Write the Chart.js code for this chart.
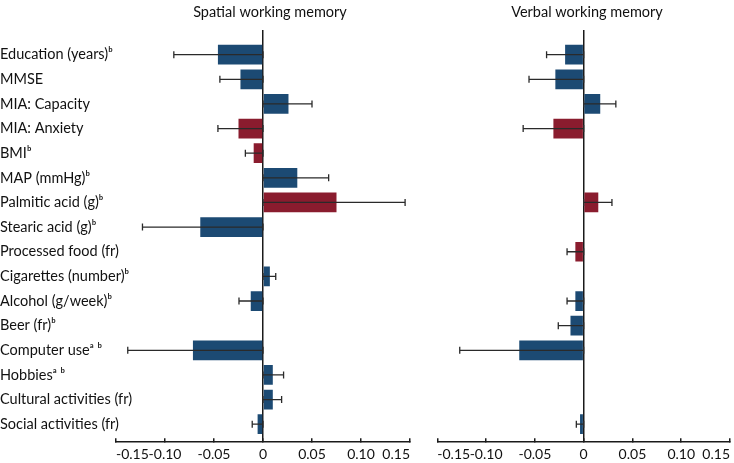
<!DOCTYPE html>
<html>
<head>
<meta charset="utf-8">
<script src="https://cdn.jsdelivr.net/npm/chart.js@4"></script>
<style>
  html, body { margin: 0; padding: 0; background: #fff; overflow: hidden; }
  #wrap { position: relative; width: 734px; height: 463px; overflow: hidden; }
  #spatial { position: absolute; left: 0; top: 0; }
  #verbal { position: absolute; left: 414px; top: 0; }
</style>
</head>
<body>
<div id="wrap">
  <canvas id="spatial" width="540" height="471"></canvas>
  <canvas id="verbal" width="346" height="471"></canvas>
</div>
<script>
const rowLabels = [
  'Education (years)ᵇ', 'MMSE', 'MIA: Capacity', 'MIA: Anxiety', 'BMIᵇ',
  'MAP (mmHg)ᵇ', 'Palmitic acid (g)ᵇ', 'Stearic acid (g)ᵇ', 'Processed food (fr)',
  'Cigarettes (number)ᵇ', 'Alcohol (g/week)ᵇ', 'Beer (fr)ᵇ', 'Computer useᵃ ᵇ',
  'Hobbiesᵃ ᵇ', 'Cultural activities (fr)', 'Social activities (fr)'
];
// rows drawn in red
const redRows = ['MIA: Anxiety', 'BMIᵇ', 'Palmitic acid (g)ᵇ', 'Processed food (fr)'];

// estimates and end of the error bar
const spatialEst = [-0.046, -0.023, 0.026, -0.025, -0.0095, 0.035, 0.075, -0.064, null,
                    0.007, -0.0125, null, -0.0715, 0.010, 0.010, -0.0055];
const spatialErr = [-0.091, -0.044, 0.050, -0.046, -0.018, 0.067, 0.145, -0.123, null,
                    0.013, -0.0245, null, -0.138, 0.021, 0.019, -0.011];
const verbalEst = [-0.019, -0.029, 0.017, -0.031, null, null, 0.015, null, -0.0085,
                   null, -0.0085, -0.0135, -0.066, null, null, -0.0037];
const verbalErr = [-0.038, -0.056, 0.033, -0.062, null, null, 0.029, null, -0.017,
                   null, -0.017, -0.026, -0.127, null, null, -0.0075];

const xTicks = [-0.15, -0.10, -0.05, 0, 0.05, 0.10, 0.15];

const BLUE = '#1c4a73';
const RED = '#8a1c2e';
const FONT = 'Lato, "Open Sans", sans-serif';

function errorBars(ends) {
  return {
    id: 'errorBars',
    afterDatasetsDraw(chart) {
      const ctx = chart.ctx;
      const xs = chart.scales.x, ys = chart.scales.y;
      ctx.save();
      ctx.strokeStyle = '#2a2a2a';
      ctx.lineWidth = 1.3;
      ends.forEach((e, i) => {
        if (e === null) return;
        const y = ys.getPixelForValue(i);
        const x0 = xs.getPixelForValue(0);
        const x1 = xs.getPixelForValue(e);
        ctx.beginPath();
        ctx.moveTo(x0, y); ctx.lineTo(x1, y);
        ctx.moveTo(x1, y - 3.5); ctx.lineTo(x1, y + 3.5);
        ctx.moveTo(x0, y - 3.5); ctx.lineTo(x0, y + 3.5);
        ctx.stroke();
      });
      ctx.restore();
    }
  };
}

// leftW / rightW: room left and right of the plot inside the canvas
function drawPanel(id, title, est, ends, showLabels, leftW, rightW) {
  const ctx = document.getElementById(id);
  return new Chart(ctx, {
    type: 'bar',
    data: {
      datasets: [{
        data: est.map((v, i) => ({ x: v, y: i })),
        backgroundColor: c => redRows.includes(rowLabels[c.dataIndex]) ? RED : BLUE,
        categoryPercentage: 0.8,
        barPercentage: 1.0
      }]
    },
    options: {
      indexAxis: 'y',
      responsive: false,
      animation: false,
      layout: { padding: 0 },
      plugins: {
        legend: { display: false },
        tooltip: { enabled: false },
        title: {
          display: true, text: title, color: '#111',
          font: { family: FONT, size: 14.5, weight: 'normal', lineHeight: 1.2 },
          padding: { top: 4, bottom: 8.6 }
        }
      },
      scales: {
        x: {
          type: 'linear', min: -0.15, max: 0.15,
          afterBuildTicks: s => { s.ticks = xTicks.map(v => ({ value: v })); },
          grid: {
            drawOnChartArea: true,
            color: c => (c.tick && Math.abs(c.tick.value) < 1e-9) ? '#1a1a1a' : 'rgba(0,0,0,0)',
            lineWidth: 1.5,
            tickColor: '#1a1a1a',
            tickLength: -4
          },
          border: { display: true, color: '#1a1a1a', width: 1.5 },
          ticks: {
            autoSkip: false, maxRotation: 0, padding: 8, color: '#111', align: 'inner',
            font: { family: FONT, size: 14 },
            callback: v => Math.abs(v) < 1e-9 ? '0' : v.toFixed(2)
          }
        },
        y: {
          type: 'linear', reverse: true, min: -1, max: 15.73,
          offset: false,
          grid: { display: false, offset: false },
          border: { display: false },
          afterBuildTicks: s => { s.ticks = rowLabels.map((_, i) => ({ value: i })); },
          afterFit: s => { s.width = leftW; },
          ticks: {
            display: showLabels,
            autoSkip: false, mirror: true, crossAlign: 'near', padding: -leftW, color: '#111',
            font: { family: FONT, size: 14.5 },
            callback: v => rowLabels[v]
          }
        },
        yPad: {
          type: 'linear', position: 'right',
          grid: { display: false }, border: { display: false },
          ticks: { display: false },
          afterFit: s => { s.width = rightW; }
        }
      }
    },
    plugins: [errorBars(ends)]
  });
}

drawPanel('spatial', 'Spatial working memory', spatialEst, spatialErr, true, 116, 130);
drawPanel('verbal', 'Verbal working memory', verbalEst, verbalErr, false, 23.3, 30);
</script>
</body>
</html>
